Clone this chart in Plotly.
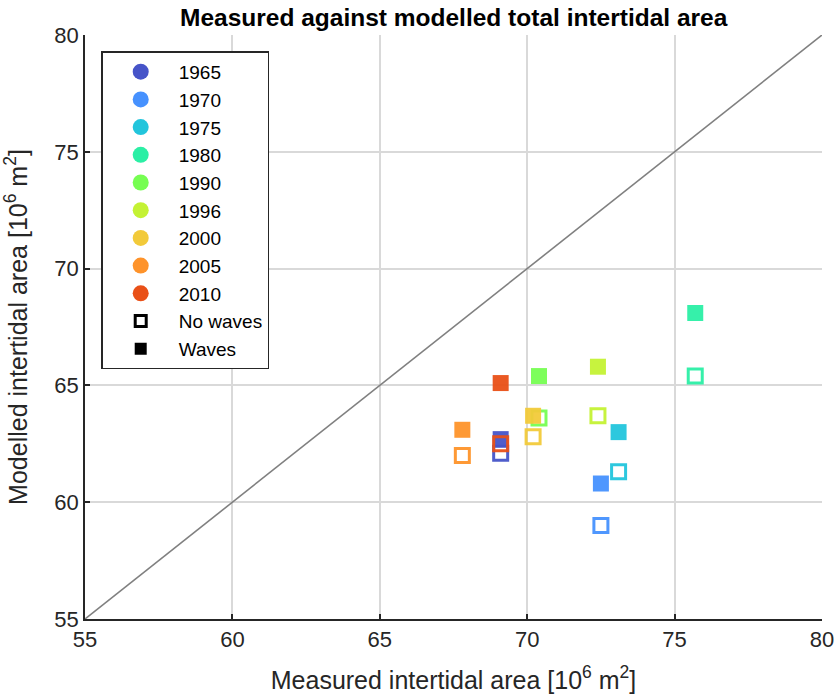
import plotly.graph_objects as go

years = ["1965", "1970", "1975", "1980", "1990", "1996", "2000", "2005", "2010"]
colors = ["#4654C8", "#4691FE", "#22C5DC", "#2BEFA5", "#76FE52", "#C4F234", "#F2CA3A", "#FE932A", "#E95017"]
measured = [69.1, 72.5, 73.1, 75.7, 70.4, 72.4, 70.2, 67.8, 69.1]
modelled_waves = [62.7, 60.8, 63.0, 68.1, 65.4, 65.8, 63.7, 63.1, 65.1]
modelled_nowaves = [62.1, 59.0, 61.3, 65.4, 63.6, 63.7, 62.8, 62.0, 62.5]
axis_range = [55, 80]
tick_vals = [55, 60, 65, 70, 75, 80]

FONT = "Liberation Sans, Arial, sans-serif"
fig = go.Figure()

# 1:1 line
fig.add_trace(go.Scatter(x=axis_range, y=axis_range, mode="lines",
                         line=dict(color="#808080", width=1.6), showlegend=False,
                         hoverinfo="skip"))

# data markers, drawn year by year (no waves, then waves)
for i, yr in enumerate(years):
    fig.add_trace(go.Scatter(x=[measured[i]], y=[modelled_nowaves[i]], mode="markers",
                             marker=dict(symbol="square-open", size=14, color=colors[i],
                                         line=dict(width=3, color=colors[i]), opacity=0.95),
                             showlegend=False))
    fig.add_trace(go.Scatter(x=[measured[i]], y=[modelled_waves[i]], mode="markers",
                             marker=dict(symbol="square", size=16, color=colors[i],
                                         line=dict(width=0), opacity=0.95),
                             showlegend=False))

# legend entries
for i, yr in enumerate(years):
    fig.add_trace(go.Scatter(x=[None], y=[None], mode="markers", name=yr,
                             marker=dict(symbol="circle", size=16, color=colors[i]),
                             legendgroup=yr))
fig.add_trace(go.Scatter(x=[None], y=[None], mode="markers", name="No waves",
                         marker=dict(symbol="square-open", size=11, color="black",
                                     line=dict(width=3, color="black")), legendgroup="nw"))
fig.add_trace(go.Scatter(x=[None], y=[None], mode="markers", name="Waves",
                         marker=dict(symbol="square", size=12, color="black"), legendgroup="w"))

axis_common = dict(range=axis_range, tickvals=tick_vals, showgrid=True,
                   gridcolor="#D9D9D9", gridwidth=1.5, zeroline=False,
                   showline=True, linecolor="#262626", linewidth=1.5,
                   ticks="inside", ticklen=5, tickcolor="#262626", tickwidth=1.5,
                   automargin=False,
                   tickfont=dict(family=FONT, size=22, color="#262626"))

fig.update_layout(
    width=837, height=700,
    margin=dict(l=85, r=15, t=35, b=81),
    paper_bgcolor="white", plot_bgcolor="white",
    title=dict(text="<b>Measured against modelled total intertidal area</b>",
               font=dict(family=FONT, size=24.5, color="black"),
               x=0.542, xanchor="center", yref="container", y=0.988, yanchor="top"),
    xaxis=dict(**axis_common,
               title=dict(text="Measured intertidal area [10<sup>6</sup> m<sup>2</sup>]",
                          font=dict(family=FONT, size=25, color="#262626"), standoff=20)),
    yaxis=dict(**axis_common,
               title=dict(text="Modelled intertidal area [10<sup>6</sup> m<sup>2</sup>]",
                          font=dict(family=FONT, size=25, color="#262626"), standoff=20)),
    legend=dict(x=0.022, y=0.972, xanchor="left", yanchor="top",
                bgcolor="white", bordercolor="#262626", borderwidth=1.5,
                font=dict(family=FONT, size=19, color="black"),
                tracegroupgap=0, itemwidth=66),
    showlegend=True,
)

fig.write_html("out.html")
